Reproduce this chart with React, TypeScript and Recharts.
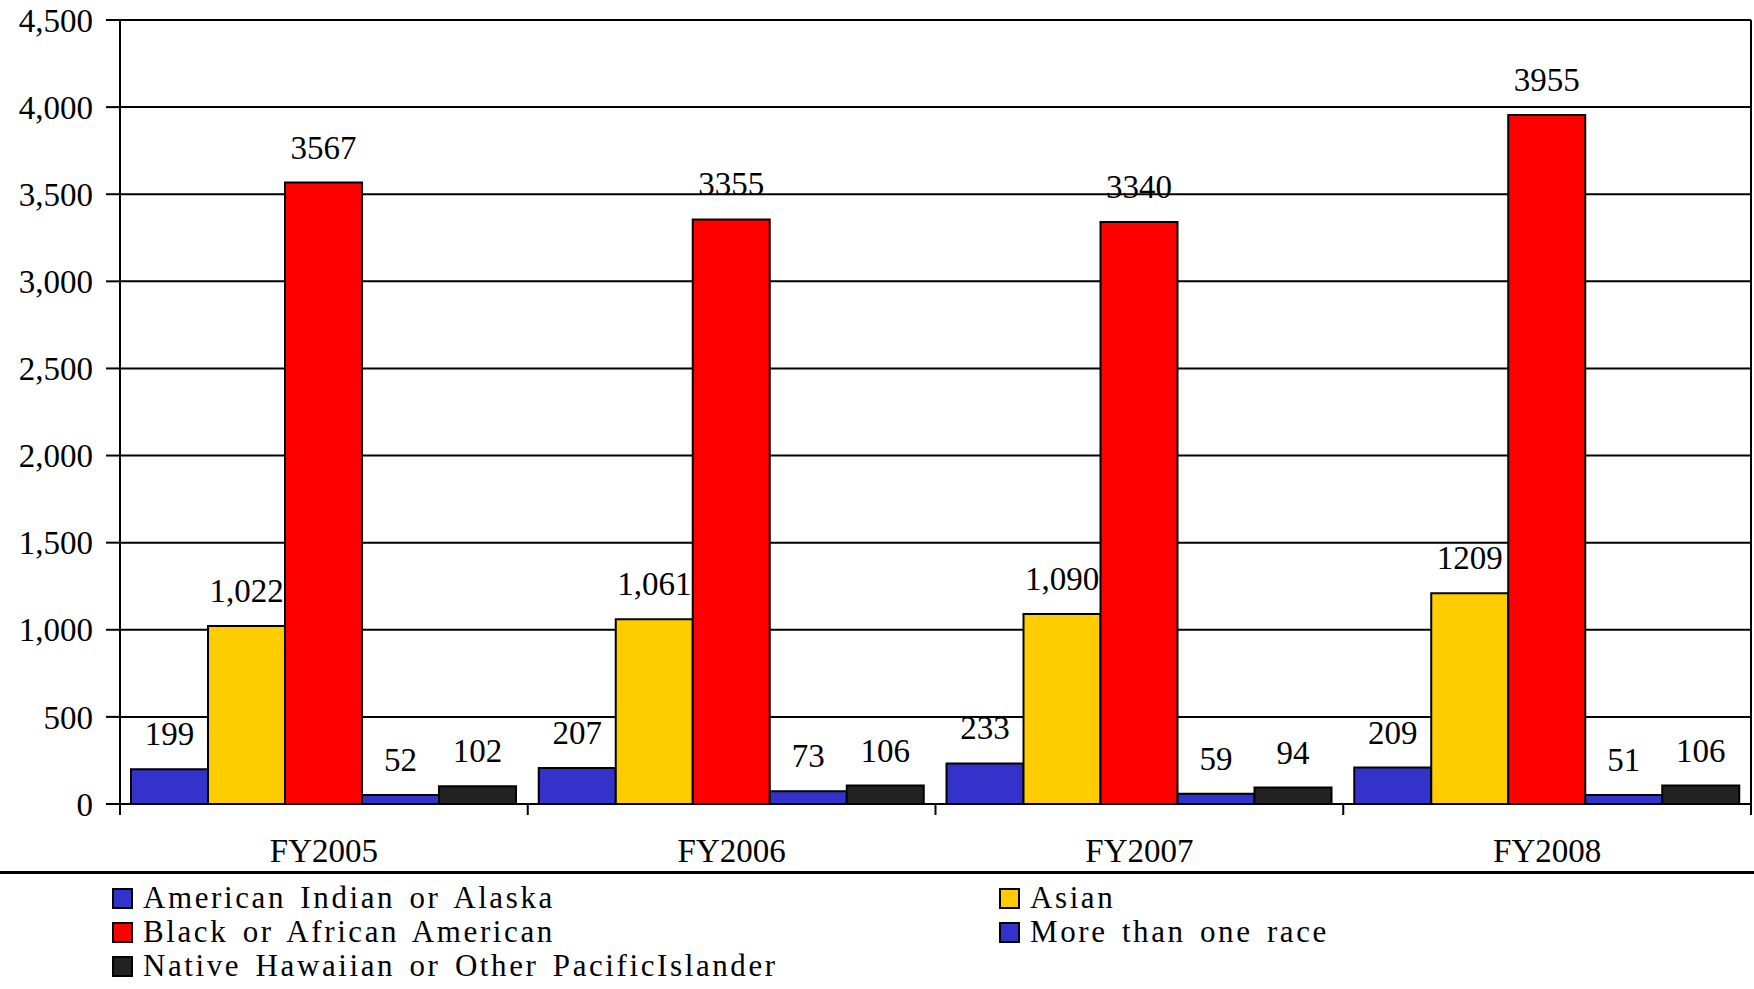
import React from 'react';
import { BarChart, Bar, XAxis, YAxis, CartesianGrid, Legend, LabelList } from 'recharts';

const categories = ['FY2005', 'FY2006', 'FY2007', 'FY2008'];
const americanIndian = [199, 207, 233, 209];
const asian = [1022, 1061, 1090, 1209];
const asianLabels = ['1,022', '1,061', '1,090', '1209'];
const blackAfrican = [3567, 3355, 3340, 3955];
const moreThanOne = [52, 73, 59, 51];
const nativeHawaiian = [102, 106, 94, 106];
const yTicks = [0, 500, 1000, 1500, 2000, 2500, 3000, 3500, 4000, 4500];

const seriesNames = [
  'American Indian or Alaska',
  'Asian',
  'Black or African American',
  'More than one race',
  'Native Hawaiian or Other PacificIslander',
];
const seriesKeys = ['aian', 'asian', 'black', 'multi', 'nhpi'];
const seriesColors = ['#3333CC', '#FFCC00', '#FF0000', '#3333CC', '#222222'];

const data = categories.map((c, i) => ({
  name: c,
  aian: americanIndian[i],
  asian: asian[i],
  asianLabel: asianLabels[i],
  black: blackAfrican[i],
  multi: moreThanOne[i],
  nhpi: nativeHawaiian[i],
}));

const FONT = '"Liberation Serif", "Times New Roman", serif';
const W = 1754;
const H = 989;
const Y_AXIS_W = 120;
const RIGHT_M = 2;
const PLOT_W = W - Y_AXIS_W - RIGHT_M - 1;
const HALF_BAND = PLOT_W / categories.length / 2;

const XTick = (props: any) => {
  const { x, y, payload, index } = props;
  return (
    <g>
      <line x1={x - HALF_BAND} x2={x - HALF_BAND} y1={y} y2={y + 11} stroke="#000" strokeWidth={2} />
      {index === categories.length - 1 && (
        <line x1={x + HALF_BAND} x2={x + HALF_BAND} y1={y} y2={y + 11} stroke="#000" strokeWidth={2} />
      )}
      <text x={x} y={y + 58} textAnchor="middle" fontSize={33} fontFamily={FONT} fill="#000">
        {payload.value}
      </text>
    </g>
  );
};

const LegendContent = () => {
  const order = [0, 1, 2, 3, 4];
  return (
    <div
      style={{
        width: W,
        height: 118,
        borderTop: '3px solid #000',
        boxSizing: 'border-box',
        paddingTop: 7,
        paddingLeft: 112,
        display: 'grid',
        gridTemplateColumns: '887px auto',
        gridAutoRows: '34px',
        fontFamily: FONT,
        fontSize: 31,
        color: '#000',
      }}
    >
      {order.map((i) => (
        <div key={i} style={{ display: 'flex', alignItems: 'center', whiteSpace: 'nowrap' }}>
          <span
            style={{
              display: 'inline-block',
              width: 17,
              height: 17,
              background: seriesColors[i],
              border: '2px solid #000',
              marginRight: 10,
            }}
          />
          <span style={{ letterSpacing: '2.6px', wordSpacing: '4px' }}>{seriesNames[i]}</span>
        </div>
      ))}
    </div>
  );
};

export default function App() {
  return (
    <div style={{ position: 'absolute', left: 0, top: 0, width: W, height: H, background: '#fff' }}>
      <BarChart
        width={W}
        height={H}
        data={data}
        margin={{ top: 20, right: RIGHT_M, left: 0, bottom: 0 }}
        barCategoryGap={11}
        barGap={0}
      >
        <CartesianGrid vertical={false} stroke="#000" strokeWidth={2} yAxisId="left" />
        <XAxis
          dataKey="name"
          height={67}
          tickLine={false}
          tickSize={0}
          tickMargin={0}
          axisLine={{ stroke: '#000', strokeWidth: 2 }}
          tick={<XTick />}
          interval={0}
        />
        <YAxis
          yAxisId="left"
          width={Y_AXIS_W}
          domain={[0, 4500]}
          ticks={yTicks}
          interval={0}
          tickFormatter={(v: number) => v.toLocaleString('en-US')}
          tickSize={14}
          tickMargin={13}
          tickLine={{ stroke: '#000', strokeWidth: 2 }}
          axisLine={{ stroke: '#000', strokeWidth: 2 }}
          tick={{ fontSize: 33, fontFamily: FONT, fill: '#000' }}
        />
        <YAxis
          yAxisId="right"
          orientation="right"
          width={1}
          domain={[0, 4500]}
          tick={false}
          tickLine={false}
          axisLine={{ stroke: '#000', strokeWidth: 2 }}
        />
        <Legend
          verticalAlign="bottom"
          content={<LegendContent />}
          wrapperStyle={{ left: 0, top: 871, width: W, height: 118 }}
        />
        {seriesKeys.map((k, i) => (
          <Bar
            key={k}
            yAxisId="left"
            dataKey={k}
            name={seriesNames[i]}
            fill={seriesColors[i]}
            stroke="#000"
            strokeWidth={2}
            isAnimationActive={false}
          >
            <LabelList
              dataKey={k === 'asian' ? 'asianLabel' : k}
              position="top"
              offset={24}
              style={{ fontSize: 33, fontFamily: FONT, fill: '#000' }}
            />
          </Bar>
        ))}
      </BarChart>
    </div>
  );
}
